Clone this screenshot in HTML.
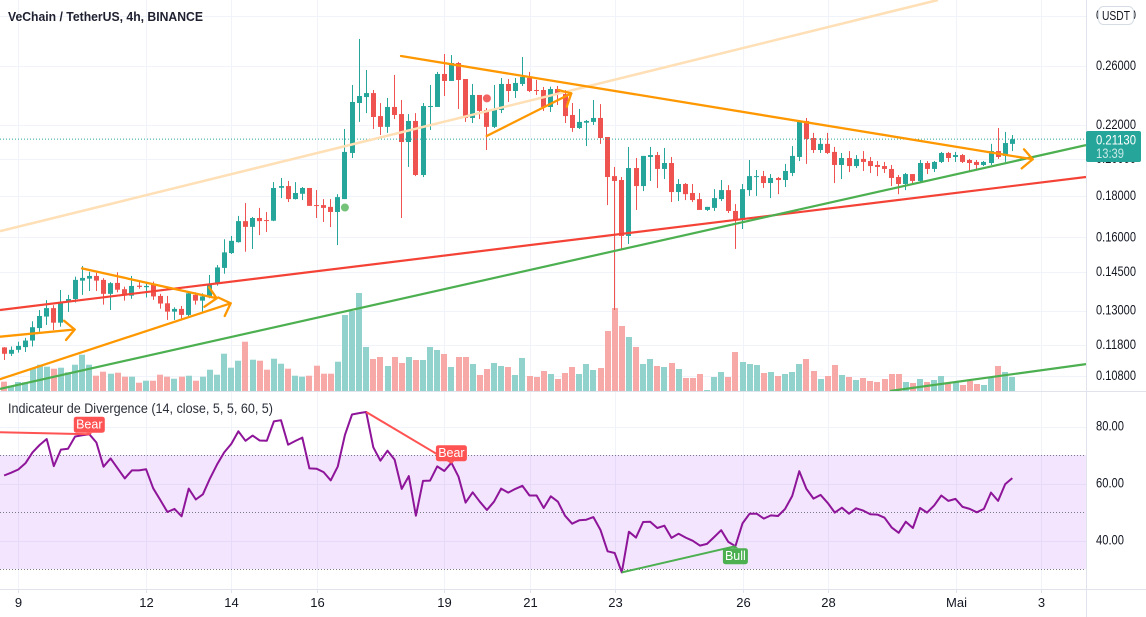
<!DOCTYPE html>
<html lang="en">
<head>
<meta charset="utf-8">
<title>VeChain / TetherUS, 4h, BINANCE</title>
<style>
html,body{margin:0;padding:0;background:#fff;width:1146px;height:617px;overflow:hidden}
svg{display:block}
text{font-family:"Liberation Sans",sans-serif}
</style>
</head>
<body>
<svg id="chart" xmlns="http://www.w3.org/2000/svg" width="1146" height="617" viewBox="0 0 1146 617">
  <defs>
    <clipPath id="main-clip"><rect x="0" y="0" width="1086" height="391"/></clipPath>
    <clipPath id="rsi-clip"><rect x="0" y="392" width="1086" height="197"/></clipPath>
  </defs>
  <rect x="0" y="0" width="1146" height="617" fill="#ffffff"/>
  <g id="grid"></g>
  <g id="volume" clip-path="url(#main-clip)"></g>
  <g id="candles" clip-path="url(#main-clip)"></g>
  <g id="drawings" clip-path="url(#main-clip)"></g>
  <g id="rsi" clip-path="url(#rsi-clip)"></g>
  <g id="axes"></g>
  <text x="8" y="21" font-size="13" font-weight="bold" fill="#1f2130" textLength="195" lengthAdjust="spacingAndGlyphs">VeChain / TetherUS, 4h, BINANCE</text>
  <text x="8" y="413" font-size="13.5" fill="#2a2e39" textLength="265" lengthAdjust="spacingAndGlyphs">Indicateur de Divergence (14, close, 5, 5, 60, 5)</text>
  <g id="overlay"></g>
</svg>
<script>
// ---- Candle data (price, USDT) ----
const opens = [
.1171,.1150,.1163,.1172,.1194,.1237,.1278,.1309,.1256,.1335,
.1343,.1415,.1423,.1434,.1418,.1363,.1406,.1381,.1356,.1395,
.1389,.1398,.1355,.1327,.1296,.1306,.1284,.1359,.1337,.1353,
.1407,.1467,.1530,.1578,.1675,.1648,.1690,.1680,.1677,.1841,
.1850,.1783,.1810,.1840,.1753,.1753,.1744,.1719,.1783,.2032,
.2341,.2381,.2408,.2256,.2188,.2315,.2269,.2096,.2225,.1909,
.2315,.2315,.2542,.2492,.2622,.2506,.2244,.2395,.2295,.2188,
.2295,.2471,.2422,.2471,.2513,.2429,.2429,.2315,.2436,.2401,
.2263,.2181,.2214,.2219,.2244,.2126,.1903,.1882,.1606,.1947,
.1850,.2009,.2020,.1942,.1975,.1819,.1861,.1814,.1783,.1729,
.1739,.1783,.1829,.1724,.1680,.1829,.1898,.1903,.1866,.1893,
.1882,.1920,.2009,.2225,.2120,.2049,.2085,.2038,.1964,.2003,
.1958,.1998,.1986,.1964,.1958,.1942,.1898,.1861,.1914,.1877,
.1975,.1942,.1981,.2032,.2009,.2020,.1992,.1981,.1964,.1975,
.2043,.2015,.2085];
const highs = [
.1172,.1174,.1190,.1203,.1261,.1302,.1339,.1320,.1378,.1359,
.1431,.1475,.1451,.1447,.1425,.1409,.1449,.1391,.1434,.1415,
.1411,.1411,.1363,.1355,.1312,.1317,.1374,.1369,.1365,.1438,
.1479,.1591,.1606,.1700,.1763,.1695,.1739,.1719,.1871,.1893,
.1877,.1871,.1845,.1840,.1829,.1783,.1783,.1808,.2175,.2464,
.2807,.2571,.2429,.2341,.2375,.2535,.2361,.2269,.2275,.2341,
.2464,.2557,.2690,.2682,.2630,.2506,.2471,.2395,.2308,.2464,
.2513,.2506,.2513,.2667,.2557,.2499,.2450,.2452,.2457,.2429,
.2341,.2302,.2231,.2361,.2334,.2126,.1953,.1898,.2067,.2003,
.2015,.2067,.2038,.2061,.2009,.1887,.1866,.1861,.1814,.1744,
.1834,.1882,.1855,.1758,.1861,.1992,.1936,.1931,.1914,.1898,
.1970,.2072,.2231,.2244,.2151,.2120,.2151,.2067,.2032,.2043,
.2020,.2043,.2009,.1986,.1981,.1964,.1909,.1920,.1914,.1992,
.1986,.1986,.2038,.2038,.2038,.2026,.1998,.1992,.1986,.2085,
.2181,.2157,.2138];
const lows = [
.1130,.1143,.1154,.1156,.1174,.1224,.1248,.1230,.1242,.1295,
.1330,.1359,.1374,.1374,.1322,.1302,.1369,.1337,.1344,.1383,
.1349,.1340,.1307,.1266,.1266,.1270,.1280,.1322,.1295,.1346,
.1395,.1443,.1526,.1576,.1536,.1548,.1610,.1624,.1675,.1788,
.1768,.1781,.1778,.1749,.1690,.1671,.1647,.1565,.1783,.2003,
.2219,.2275,.2175,.2138,.2151,.2237,.1690,.1953,.1903,.1898,
.2169,.2315,.2388,.2492,.2302,.2219,.2212,.2237,.2049,.2181,
.2275,.2348,.2375,.2457,.2415,.2395,.2289,.2282,.2328,.2212,
.2157,.2175,.2072,.2200,.2085,.1753,.1302,.1548,.1570,.1729,
.1824,.1877,.1840,.1887,.1768,.1773,.1778,.1768,.1729,.1724,
.1724,.1773,.1714,.1548,.1638,.1799,.1799,.1840,.1788,.1808,
.1845,.1903,.1986,.1970,.2032,.2032,.2026,.1866,.1887,.1925,
.1947,.1931,.1920,.1903,.1920,.1850,.1808,.1829,.1861,.1871,
.1914,.1925,.1975,.1981,.1981,.1975,.1931,.1942,.1958,.1964,
.1998,.1981,.2043];
const closes = [
.1150,.1163,.1176,.1194,.1240,.1280,.1309,.1256,.1331,.1343,
.1418,.1426,.1434,.1415,.1363,.1405,.1379,.1356,.1394,.1390,
.1394,.1353,.1326,.1296,.1306,.1284,.1365,.1337,.1353,.1398,
.1469,.1533,.1584,.1675,.1648,.1690,.1675,.1677,.1840,.1850,
.1783,.1814,.1840,.1749,.1749,.1739,.1719,.1793,.2038,.2348,
.2388,.2408,.2250,.2188,.2315,.2263,.2096,.2225,.1909,.2321,
.2321,.2542,.2492,.2622,.2499,.2244,.2395,.2289,.2188,.2302,
.2471,.2422,.2478,.2520,.2422,.2422,.2315,.2436,.2401,.2256,
.2181,.2219,.2225,.2244,.2120,.1898,.1877,.1606,.1947,.1850,
.2015,.2020,.1942,.1975,.1819,.1861,.1808,.1778,.1729,.1744,
.1788,.1829,.1724,.1680,.1834,.1903,.1903,.1866,.1893,.1882,
.1931,.2015,.2225,.2114,.2049,.2085,.2032,.1964,.2003,.1958,
.1998,.1981,.1958,.1953,.1942,.1893,.1861,.1914,.1877,.1975,
.1942,.1981,.2032,.2003,.2020,.1981,.1975,.1964,.1981,.2043,
.2009,.2090,.2113];
const volumes = [
9.3,5.3,9,8.7,23,26.3,24.3,22.3,23.3,18.7,
26.3,36.3,26.3,15.3,19.3,17.3,18.3,14.3,14.3,8.3,
10.3,10.3,16.3,14.3,12.3,14.3,15.3,10.3,14.3,21.3,
16.3,37.3,23.3,30.3,49.3,31.3,30.3,21.3,32.3,27.3,
22.3,15.3,14.3,15.3,25.3,17.3,17.3,29.3,76,80,
98,44,32,34,25,34,28,34,31,31,
44,41,37,24,34,34,27,16,22,28,
25,24,16,33,15,14,20,17,12,18,
24,17,27,21,23,60,83,65,54,44,
27,32,25,24,28,22,13,13,17,1,
14,19,14,39,29,27,26,18,19,15,
17,19,27,32,20,12,15,26,16,14,
11,13,10,9,12,17,17,9,8,12,
9,11,15,8,9,6,10,7,6,13,
25,19,14];
const rsiValues = [
62.8,63.8,64.9,67.1,70.9,73.5,75.6,66.1,71.9,72.2,
76.5,76.9,77.3,74.4,65.9,68.8,65.3,61.8,64.6,64.6,
65.0,58.3,54.2,50.0,51.1,48.5,58.2,54.4,56.2,61.8,
66.7,70.9,73.9,78.3,75.0,76.8,75.1,75.0,81.8,82.2,
73.6,74.9,76.1,65.3,65.2,64.0,61.1,66.0,77.0,84.2,
84.7,85.1,72.7,68.0,71.5,68.4,58.1,62.6,48.7,60.9,
61.0,66.0,64.4,67.3,62.4,53.3,56.9,53.6,50.7,53.6,
58.2,56.8,58.1,59.2,55.8,55.8,51.4,55.5,53.6,48.7,
45.9,47.1,47.3,48.2,43.7,36.2,35.6,28.8,43.1,41.0,
46.5,46.6,44.4,45.2,40.9,42.4,41.0,39.9,38.2,38.8,
41.2,43.6,39.5,38.0,46.0,49.4,49.4,47.7,48.8,48.6,
51.1,55.6,64.3,58.1,54.7,56.0,53.2,49.8,51.5,49.4,
51.3,50.5,49.2,49.1,48.0,44.6,42.7,46.6,44.4,51.4,
49.8,52.3,55.8,53.9,54.6,51.8,51.1,49.9,51.1,56.8,
53.9,59.8,61.9];

// ---- Tick data ----
const priceTicks = [0.30,0.26,0.22,0.20,0.18,0.16,0.145,0.13,0.118,0.108];
const rsiTicks = [80,60,40];
const rsiLevels = [70,50,30];
const timeTickBars = [2,20,32,44,62,74,86,104,116,134,146];
const timeTickLabels = ["9","12","14","16","19","21","23","26","28","Mai","3"];
const lastPriceLabel = "0.21130";
const countdownLabel = "13:39";
const quoteLabel = "USDT";

// ---- Drawings, as [bar, price] anchors ----
const peachLine = [[-0.58,.1628],[131.53,.3135]];
const redLine = [[-0.58,.1302],[152.38,.1898]];
const greenLine = [[-0.58,.1041],[152.38,.2078]];
const lowerGreenLine = [[124.77,.1035],[152.38,.1117]];
const arrowA = [[-0.58,.1207],[9.94,.1232],[8.44,.1263],[8.72,.1196]];
const arrowB = [[-0.58,.1070],[31.92,.1327],[30.17,.1349],[31.07,.1280]];
const arrowC = [[10.97,.1465],[29.94,.1346],[28.86,.1389],[28.2,.1314]];
const arrowD = [[55.9,.2675],[144.87,.1996],[143.65,.2053],[143.32,.1945]];
const arrowE = [[67.97,.2132],[79.89,.2406],[78.06,.2429],[79.24,.2317]];
const greenDot = [48,.1741];
const redDot = [68,.2372];

// ---- Divergence lines, as [bar, indicator value] anchors ----
const bearLineA = [[-0.58,78.0],[12,77.3]];
const bearLineB = [[51,85.1],[63,67.3]];
const bullLine = [[87,28.8],[103,38.0]];

// ---- Axis functions ----
const NS = "http://www.w3.org/2000/svg";
function xOf(bar){ return 4.1 + 7.1 * bar; }
function yOf(price){ return 66 + 352.8 * Math.log(0.26 / price); }
function yRsi(v){ return 426.5 + (80 - v) * 2.85; }
function yVol(v){ return 391 - v; }
function fmtPrice(p){ return p.toFixed(5); }
function fmtRsi(v){ return v.toFixed(2); }
function px(v){ return Math.round(v); }

function make(tag, attrs, parent, text){
  const el = document.createElementNS(NS, tag);
  for (const k in attrs) el.setAttribute(k, attrs[k]);
  if (text !== undefined) el.textContent = text;
  parent.appendChild(el);
  return el;
}

const gGrid = document.getElementById("grid");
const gVol = document.getElementById("volume");
const gCandles = document.getElementById("candles");
const gDraw = document.getElementById("drawings");
const gRsi = document.getElementById("rsi");
const gAxes = document.getElementById("axes");
const gOver = document.getElementById("overlay");

// Grid
timeTickBars.forEach(function(b){
  const x = px(xOf(b)) + 0.5;
  const el = make("line",{x1:x,x2:x,y1:0,y2:589,stroke:"#f0f3fa","stroke-width":1},gGrid);
  
  
});
priceTicks.forEach(function(p){
  const y = px(yOf(p)) + 0.5;
  const el = make("line",{x1:0,x2:1086,y1:y,y2:y,stroke:"#f0f3fa","stroke-width":1},gGrid);
  
  
});
rsiTicks.forEach(function(v){
  const y = px(yRsi(v)) + 0.5;
  const el = make("line",{x1:0,x2:1086,y1:y,y2:y,stroke:"#f0f3fa","stroke-width":1},gGrid);
  
  
});

// Volume
volumes.forEach(function(v,i){
  const up = closes[i] >= opens[i];
  const el = make("rect",{x:px(xOf(i)-3),y:yVol(v),width:6,height:391-yVol(v),fill:up?"#92d2cc":"#f7a9a7"},gVol);
  
  
});

// Candles
opens.forEach(function(o,i){
  const c = closes[i], up = c >= o, col = up ? "#26a69a" : "#ef5350";
  const cx = xOf(i);
  const top = yOf(Math.max(o,c)), bot = yOf(Math.min(o,c));
  const g = make("g",{},gCandles);
  
  
  const wick = make("rect",{x:px(cx-0.5),y:yOf(highs[i]),width:1,height:yOf(lows[i])-yOf(highs[i]),fill:col},g);
  
  
  const body = make("rect",{x:px(cx-2.5),y:top,width:5,height:Math.max(1,bot-top),fill:col},g);
  
  
});

// Last price dotted line
const lastY = yOf(closes[closes.length-1]);
const lastLine = make("line",{x1:0,x2:1086,y1:lastY,y2:lastY,stroke:"#26a69a","stroke-width":1,"stroke-dasharray":"1 2"},gDraw);



// Drawings
function pts(arr){ return arr.map(function(a){ return xOf(a[0]).toFixed(1)+","+yOf(a[1]).toFixed(1); }).join(" "); }
const l1 = make("polyline",{points:pts(peachLine),fill:"none",stroke:"#ffdfb5","stroke-width":2.5},gDraw);


const l2 = make("polyline",{points:pts(redLine),fill:"none",stroke:"#f44336","stroke-width":2.2},gDraw);


const l3 = make("polyline",{points:pts(greenLine),fill:"none",stroke:"#4caf50","stroke-width":2.2},gDraw);


const l4 = make("polyline",{points:pts(lowerGreenLine),fill:"none",stroke:"#4caf50","stroke-width":2.2},gDraw);



function arrow(a){
  const g = make("g",{fill:"none",stroke:"#ff9800","stroke-width":2.3,"stroke-linecap":"round","stroke-linejoin":"round"},gDraw);
  make("polyline",{points:pts([a[0],a[1]])},g);
  make("polyline",{points:pts([a[2],a[1],a[3]])},g);
  return g;
}
const aA = arrow(arrowA);


const aB = arrow(arrowB);


const aC = arrow(arrowC);


const aD = arrow(arrowD);


const aE = arrow(arrowE);



const d1 = make("circle",{cx:xOf(greenDot[0]),cy:yOf(greenDot[1]),r:4,fill:"#66bb6a","fill-opacity":0.9},gDraw);


const d2 = make("circle",{cx:xOf(redDot[0]),cy:yOf(redDot[1]),r:4,fill:"#ef5350","fill-opacity":0.9},gDraw);



// Indicator pane
const band = make("rect",{x:0,y:yRsi(rsiLevels[0]),width:1086,height:yRsi(rsiLevels[2])-yRsi(rsiLevels[0]),fill:"rgb(156,39,236)","fill-opacity":0.12},gRsi);


rsiLevels.forEach(function(v){
  const y = px(yRsi(v)) + 0.5;
  const el = make("line",{x1:0,x2:1086,y1:y,y2:y,stroke:"#787b86","stroke-width":1,"stroke-dasharray":"1 2"},gRsi);
  
  
});
function rsiPts(arr){ return arr.map(function(a){ return xOf(a[0]).toFixed(1)+","+yRsi(a[1]).toFixed(1); }).join(" "); }
const rsiLine = make("polyline",{points:rsiValues.map(function(v,i){ return xOf(i).toFixed(1)+","+yRsi(v).toFixed(1); }).join(" "),fill:"none",stroke:"#8e1599","stroke-width":2,"stroke-linejoin":"round"},gRsi);


const dl1 = make("polyline",{points:rsiPts(bearLineA),fill:"none",stroke:"#ff5252","stroke-width":2},gRsi);


const dl2 = make("polyline",{points:rsiPts(bearLineB),fill:"none",stroke:"#ff5252","stroke-width":2},gRsi);


const dl3 = make("polyline",{points:rsiPts(bullLine),fill:"none",stroke:"#4caf50","stroke-width":2},gRsi);



function flag(anchor, word, color, w, below){
  const cx = xOf(anchor[0]), ay = yRsi(anchor[1]);
  const top = below ? ay + 2 : ay - 17.5;
  const g = make("g",{},gRsi);
  make("rect",{x:cx-w/2,y:top,width:w,height:16,rx:2.5,fill:color},g);
  const tipY = below ? ay : ay + 1;
  const baseY = below ? top : top + 16;
  make("polygon",{points:(cx-3)+","+baseY+" "+(cx+3)+","+baseY+" "+cx+","+tipY,fill:color},g);
  make("text",{x:cx,y:top+12,"text-anchor":"middle","font-size":12.5,fill:"#ffffff"},g,word);
  return g;
}
const f1 = flag(bearLineA[1],"Bear","#ff5252",31,false);


const f2 = flag(bearLineB[1],"Bear","#ff5252",31,false);


const f3 = flag(bullLine[1],"Bull","#4caf50",25,true);



// Axes
const axV = make("line",{x1:1086.5,x2:1086.5,y1:0,y2:617,stroke:"#e0e3eb","stroke-width":1},gAxes);


const axH = make("line",{x1:0,x2:1146,y1:589.5,y2:589.5,stroke:"#e0e3eb","stroke-width":1},gAxes);


const paneSep = make("line",{x1:0,x2:1146,y1:391.5,y2:391.5,stroke:"#e0e3eb","stroke-width":1},gAxes);



priceTicks.forEach(function(p){
  const t = make("text",{x:1096,y:yOf(p)+4.2,"font-size":13.5,fill:"#131722",textLength:40,lengthAdjust:"spacingAndGlyphs"},gAxes,fmtPrice(p));
  
  
});
rsiTicks.forEach(function(v){
  const t = make("text",{x:1096,y:yRsi(v)+4.2,"font-size":13.5,fill:"#131722",textLength:28,lengthAdjust:"spacingAndGlyphs"},gAxes,fmtRsi(v));
  
  
});
timeTickBars.forEach(function(b,i){
  const x = px(xOf(b)) + 0.5;
  const tick = make("line",{x1:x,x2:x,y1:589,y2:593,stroke:"#e0e3eb","stroke-width":1},gAxes);
  
  
  const t = make("text",{x:x,y:607,"text-anchor":"middle","font-size":13,fill:"#131722"},gAxes,timeTickLabels[i]);
  
  
});

// Overlays on the price axis
const priceTag = make("rect",{x:1086,y:131,width:55,height:31,rx:2,fill:"#26a69a"},gOver);


const priceTxt = make("text",{x:1096,y:144.5,"font-size":13.5,fill:"#ffffff",textLength:40,lengthAdjust:"spacingAndGlyphs"},gOver,lastPriceLabel);


const cdTxt = make("text",{x:1096,y:158,"font-size":13.5,fill:"#ffffff","fill-opacity":0.75,textLength:28,lengthAdjust:"spacingAndGlyphs"},gOver,countdownLabel);


const usdBox = make("rect",{x:1098.5,y:6.5,width:35,height:18,rx:5,fill:"#ffffff",stroke:"#d6dce3","stroke-width":1},gOver);


const usdTxt = make("text",{x:1116,y:20,"text-anchor":"middle","font-size":13,fill:"#131722",textLength:28,lengthAdjust:"spacingAndGlyphs"},gOver,quoteLabel);


</script>
</body>
</html>
